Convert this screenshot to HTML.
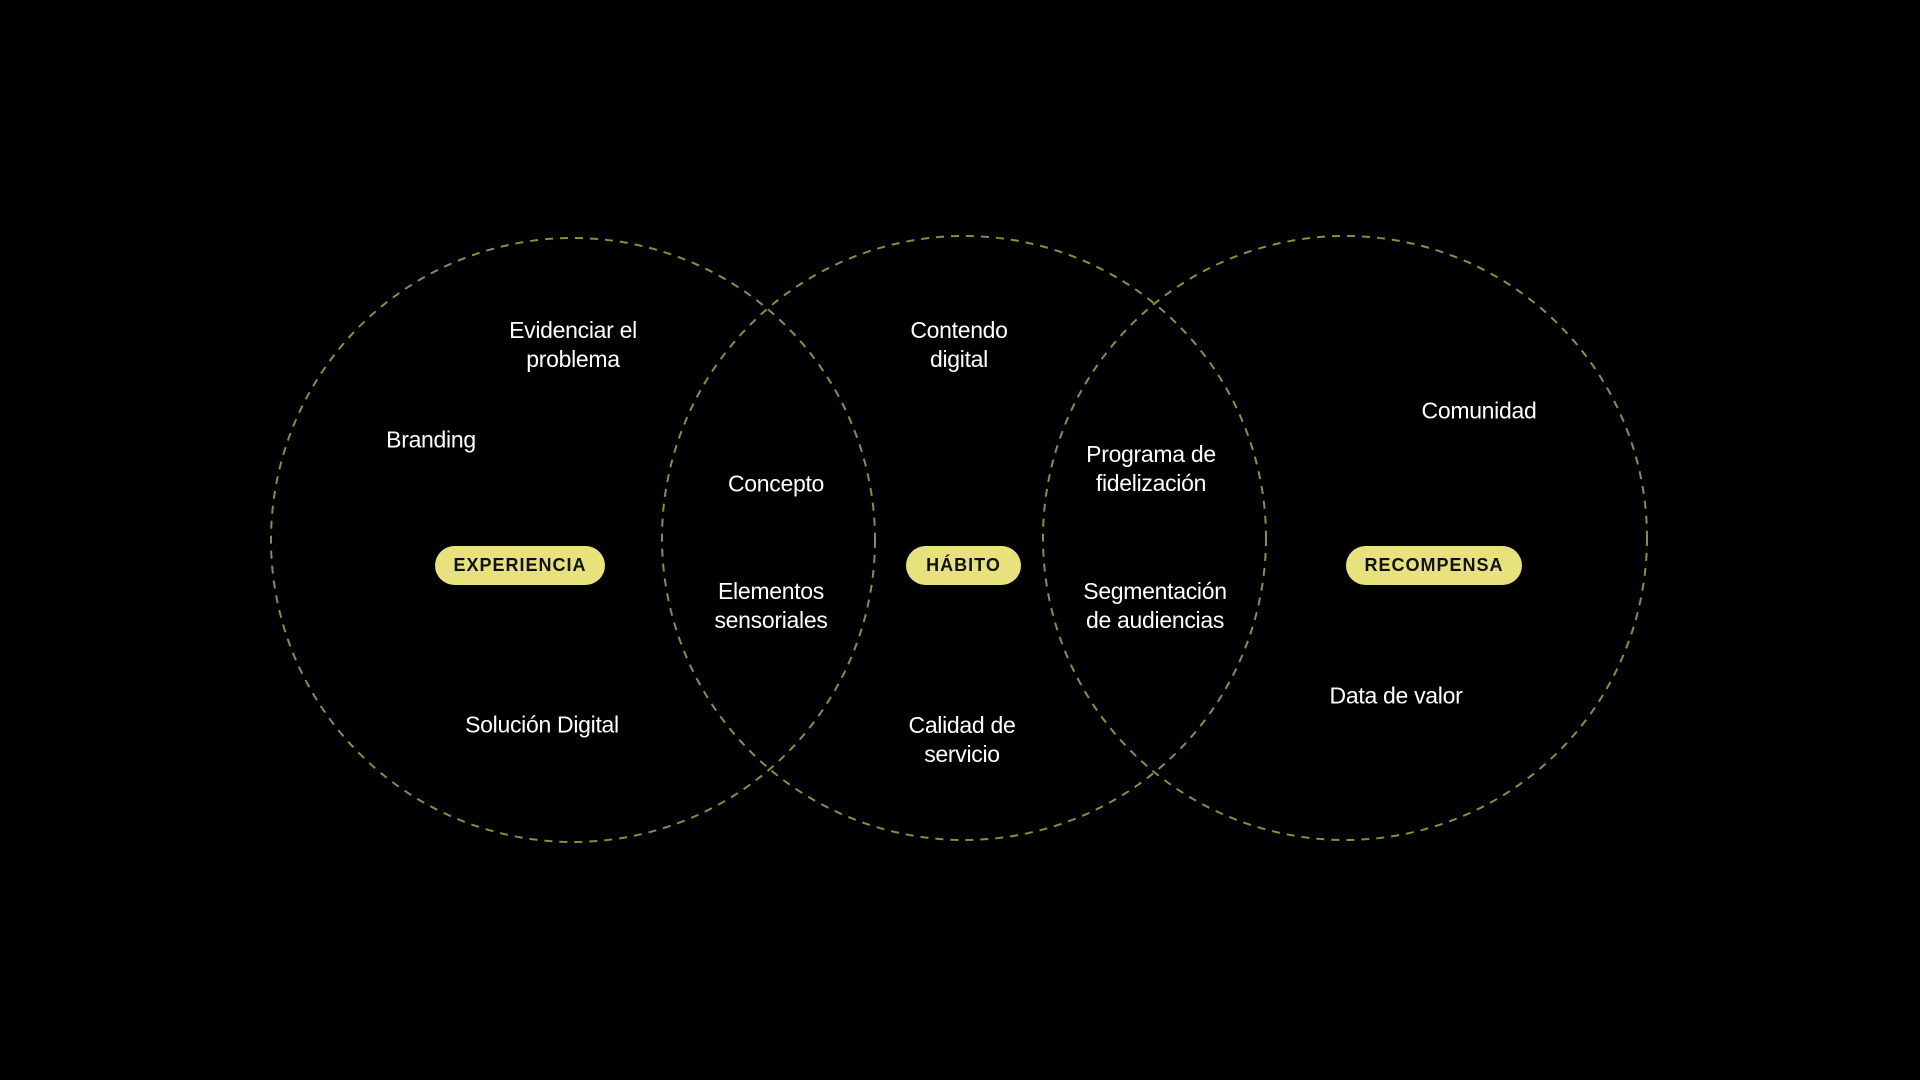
<!DOCTYPE html>
<html><head><meta charset="utf-8"><style>
html,body{margin:0;padding:0;background:#000;}
body{width:1920px;height:1080px;position:relative;overflow:hidden;font-family:"Liberation Sans",sans-serif;}
.t{position:absolute;color:#fff;font-size:23px;line-height:29px;text-align:center;transform:translate(-50%,-50%);white-space:nowrap;letter-spacing:-0.3px;}
.p{position:absolute;background:#e8e27c;color:#111;font-weight:bold;font-size:18px;letter-spacing:1px;border-radius:22px;display:flex;align-items:center;justify-content:center;}
</style></head><body>
<svg width="1920" height="1080" style="position:absolute;left:0;top:0">
<g fill="none" stroke="#8f8c3c" stroke-width="2" stroke-dasharray="8 7">
<circle cx="573" cy="540" r="302"/>
<circle cx="964" cy="538" r="302"/>
<circle cx="1345" cy="538" r="302"/>
</g></svg>
<div class="p" style="left:435px;top:546px;width:170px;height:39px">EXPERIENCIA</div>
<div class="p" style="left:906px;top:546px;width:115px;height:39px">HÁBITO</div>
<div class="p" style="left:1346px;top:546px;width:176px;height:39px">RECOMPENSA</div>
<div class="t" style="left:573px;top:345px">Evidenciar el<br>problema</div>
<div class="t" style="left:431px;top:440px">Branding</div>
<div class="t" style="left:776px;top:484px">Concepto</div>
<div class="t" style="left:771px;top:606px">Elementos<br>sensoriales</div>
<div class="t" style="left:542px;top:725px">Solución Digital</div>
<div class="t" style="left:959px;top:345px">Contendo<br>digital</div>
<div class="t" style="left:962px;top:740px">Calidad de<br>servicio</div>
<div class="t" style="left:1151px;top:469px">Programa de<br>fidelización</div>
<div class="t" style="left:1155px;top:606px">Segmentación<br>de audiencias</div>
<div class="t" style="left:1479px;top:411px">Comunidad</div>
<div class="t" style="left:1396px;top:696px">Data de valor</div>
</body></html>
